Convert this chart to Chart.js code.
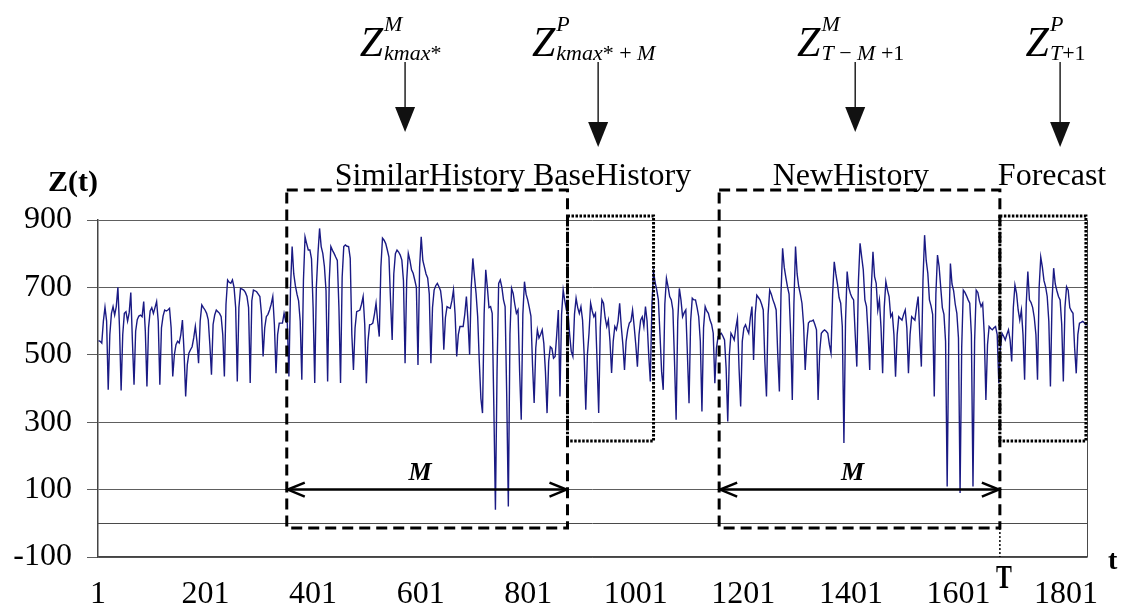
<!DOCTYPE html>
<html>
<head>
<meta charset="utf-8">
<script src="https://cdn.jsdelivr.net/npm/chart.js@4.4.1/dist/chart.umd.min.js"></script>
<style>
  html, body { margin: 0; padding: 0; background: #fff; }
  #wrap { width: 1123px; height: 610px; position: relative; }
</style>
</head>
<body>
<div id="wrap"><canvas id="chart"></canvas></div>
<script>
// Z(t), every 3 steps of t, starting at t = 2.
// First row runs up to the first daily low, then one row per day (low first).
const T_START = 2;
const T_STEP = 3;
const zValues = [
  542, 540, 535, 600, 641, 600,
  396, 560, 623, 643, 618, 643, 700, 580,
  394, 560, 623, 628, 600, 625, 685, 540,
  411, 570, 604, 615, 618, 613, 658, 570,
  406, 580, 630, 640, 623, 640, 658, 600,
  411, 580, 615, 633, 630, 633, 638, 580,
  436, 500, 530, 540, 535, 560, 603, 510,
  376, 470, 505, 515, 524, 550, 584, 540,
  475, 600, 648, 640, 633, 623, 604, 530,
  441, 590, 618, 633, 628, 623, 613, 560,
  436, 650, 722, 715, 712, 722, 700, 640,
  421, 640, 697, 695, 692, 685, 673, 640,
  416, 660, 692, 690, 687, 680, 673, 620,
  495, 580, 613, 620, 633, 650, 673, 590,
  445, 560, 594, 594, 594, 623, 600, 594,
  436, 700, 821, 740, 705, 680, 660, 600,
  426, 720, 850, 830, 811, 811, 785, 640,
  416, 700, 800, 875, 821, 801, 762, 690,
  421, 720, 821, 810, 801, 790, 780, 640,
  416, 730, 821, 826, 822, 821, 786, 560,
  455, 580, 628, 630, 633, 650, 673, 590,
  416, 540, 589, 590, 594, 620, 653, 600,
  554, 760, 846, 840, 830, 811, 790, 660,
  544, 740, 800, 811, 805, 796, 781, 720,
  475, 720, 801, 780, 752, 742, 722, 700,
  470, 760, 850, 780, 760, 740, 728, 680,
  475, 640, 692, 705, 712, 702, 690, 650,
  515, 610, 643, 640, 638, 660, 692, 620,
  495, 560, 584, 584, 584, 620, 673, 600,
  500, 700, 786, 732, 682, 613, 480, 370,
  327, 620, 752, 700, 640, 643, 623, 350,
  40, 450, 712, 722, 700, 663, 643, 380,
  50, 560, 697, 682, 650, 623, 633, 450,
  307, 620, 717, 680, 663, 640, 615, 470,
  357, 520, 574, 550, 560, 574, 534, 450,
  327, 480, 524, 519, 490, 495, 560, 633,
  376, 620, 692, 660, 633, 623, 560, 510,
  495, 620, 668, 640, 623, 643, 603, 500,
  337, 500, 564, 653, 630, 613, 623, 480,
  327, 580, 663, 653, 610, 584, 603, 540,
  446, 540, 584, 574, 600, 653, 584, 530,
  455, 540, 574, 594, 600, 633, 584, 530,
  465, 560, 603, 613, 584, 643, 600, 500,
  421, 650, 745, 715, 692, 663, 560, 450,
  396, 650, 727, 702, 673, 663, 633, 480,
  307, 600, 697, 663, 613, 625, 633, 500,
  356, 600, 668, 663, 663, 640, 613, 540,
  332, 580, 643, 630, 623, 603, 590, 564,
  416, 520, 554, 560, 564, 555, 544, 460,
  302, 500, 564, 555, 544, 580, 608, 460,
  347, 540, 580, 589, 575, 564, 610, 643,
  485, 620, 677, 670, 663, 650, 633, 480,
  376, 620, 692, 680, 663, 650, 633, 500,
  391, 680, 816, 760, 730, 702, 680, 560,
  366, 650, 821, 740, 702, 680, 653, 590,
  455, 540, 594, 600, 600, 603, 590, 574,
  366, 510, 564, 570, 574, 570, 564, 530,
  505, 680, 776, 740, 710, 670, 653, 584,
  238, 600, 747, 700, 682, 670, 663, 560,
  465, 720, 831, 791, 752, 663, 643, 560,
  455, 700, 806, 732, 712, 633, 663, 580,
  445, 640, 717, 692, 673, 613, 623, 560,
  435, 560, 613, 608, 603, 620, 633, 580,
  445, 560, 613, 608, 603, 640, 673, 560,
  465, 720, 855, 780, 742, 663, 645, 620,
  376, 680, 796, 762, 700, 640, 620, 540,
  109, 550, 771, 710, 690, 650, 623, 550,
  90, 520, 692, 685, 675, 663, 653, 560,
  109, 540, 692, 685, 660, 643, 653, 560,
  366, 530, 584, 578, 574, 580, 584, 560,
  416, 520, 564, 555, 544, 560, 574, 544,
  480, 640, 707, 682, 633, 603, 633, 560,
  426, 650, 747, 663, 655, 640, 610, 560,
  426, 700, 790, 760, 720, 702, 673, 600,
  406, 660, 757, 710, 690, 673, 663, 590,
  421, 640, 702, 692, 640, 630, 623, 520,
  445, 560, 594, 596, 599, 595, 589, 590
];

const xTicks = [1, 201, 401, 601, 801, 1001, 1201, 1401, 1601, 1801];
const yTicks = [-100, 100, 300, 500, 700, 900];

// windows of the scheme
const T_NOW = 1678;
const M_LEN = 522;
const P_LEN = 160;
const K_MAX = 352;

const SERIF = "'Liberation Serif', 'Times New Roman', serif";

const boxes = [
  { from: K_MAX, to: K_MAX + M_LEN, low: -14, high: 989, dash: [11, 6] },
  { from: K_MAX + M_LEN, to: K_MAX + M_LEN + P_LEN, low: 244, high: 912, dash: [2.5, 1.5] },
  { from: T_NOW - M_LEN, to: T_NOW, low: -14, high: 989, dash: [11, 6] },
  { from: T_NOW, to: T_NOW + P_LEN, low: 244, high: 912, dash: [2.5, 1.5] }
];

const names = [
  { text: 'SimilarHistory', t: 618 },
  { text: 'BaseHistory', t: 957 },
  { text: 'NewHistory', t: 1401 },
  { text: 'Forecast', t: 1775 }
];

const IT = 'italic 22px ' + SERIF;
const UP = '22px ' + SERIF;
const pointers = [
  { t: 572, tip: -88, sup: 'M', sub: [['kmax', IT], ['*', UP]] },
  { t: 931, tip: -73, sup: 'P', sub: [['kmax', IT], ['*', UP], [' + ', UP], ['M', IT]] },
  { t: 1409, tip: -88, sup: 'M', sub: [['T', IT], [' \u2212 ', UP], ['M', IT], [' +1', UP]] },
  { t: 1790, tip: -73, sup: 'P', sub: [['T', IT], ['+1', UP]] }
];

function line(ctx, x0, y0, x1, y1) {
  ctx.beginPath();
  ctx.moveTo(x0, y0);
  ctx.lineTo(x1, y1);
  ctx.stroke();
}

function runsWidth(ctx, runs) {
  let w = 0;
  runs.forEach(r => { ctx.font = r[1]; w += ctx.measureText(r[0]).width; });
  return w;
}

function drawRuns(ctx, x, y, runs) {
  runs.forEach(r => {
    ctx.font = r[1];
    ctx.fillText(r[0], x, y);
    x += ctx.measureText(r[0]).width;
  });
}

function chevron(ctx, tx, ty, dir) {
  ctx.beginPath();
  ctx.moveTo(tx + dir * 17, ty - 7);
  ctx.lineTo(tx, ty);
  ctx.lineTo(tx + dir * 17, ty + 7);
  ctx.stroke();
}

const schemePlugin = {
  id: 'scheme',
  beforeDatasetsDraw(chart) {
    const { ctx, chartArea: a, scales: { y } } = chart;
    ctx.save();
    ctx.strokeStyle = '#4a4a4a';
    ctx.lineWidth = 1;
    const y0 = Math.round(y.getPixelForValue(0)) + 0.5;
    line(ctx, a.left, y0, a.right, y0);
    line(ctx, a.right + 0.5, a.top, a.right + 0.5, a.bottom);
    ctx.restore();
  },
  afterDraw(chart) {
    const { ctx, chartArea: a, scales: { x, y } } = chart;
    ctx.save();
    ctx.strokeStyle = '#000';
    ctx.fillStyle = '#000';

    // windows
    ctx.lineWidth = 3;
    boxes.forEach(b => {
      const x0 = x.getPixelForValue(b.from), x1 = x.getPixelForValue(b.to);
      const y0 = y.getPixelForValue(b.high), y1 = y.getPixelForValue(b.low);
      ctx.setLineDash(b.dash);
      ctx.strokeRect(x0, y0, x1 - x0, y1 - y0);
    });
    // T mark down to the axis
    ctx.lineWidth = 1.5;
    ctx.setLineDash([2, 2]);
    const xT = x.getPixelForValue(T_NOW);
    line(ctx, xT, y.getPixelForValue(-14), xT, a.bottom);
    ctx.setLineDash([]);

    // M spans
    const yM = y.getPixelForValue(100);
    [[K_MAX, K_MAX + M_LEN], [T_NOW - M_LEN, T_NOW]].forEach(s => {
      const x0 = x.getPixelForValue(s[0]), x1 = x.getPixelForValue(s[1]);
      ctx.lineWidth = 2.5;
      line(ctx, x0 + 2, yM, x1 - 2, yM);
      chevron(ctx, x0 + 1, yM, 1);
      chevron(ctx, x1 - 1, yM, -1);
      ctx.font = 'italic bold 26px ' + SERIF;
      ctx.textAlign = 'center';
      ctx.fillText('M', (x0 + x1) / 2 - 7, yM - 10);
    });

    // window names
    ctx.textAlign = 'center';
    ctx.textBaseline = 'alphabetic';
    ctx.font = '32px ' + SERIF;
    names.forEach(n => ctx.fillText(n.text, x.getPixelForValue(n.t), a.top - 35));

    // pointers with Z labels
    ctx.textAlign = 'left';
    pointers.forEach(p => {
      const px = x.getPixelForValue(p.t);
      const tipY = a.top + p.tip;
      ctx.strokeStyle = '#222';
      ctx.fillStyle = '#111';
      ctx.lineWidth = 1.5;
      line(ctx, px, a.top - 158, px, tipY - 22);
      ctx.beginPath();
      ctx.moveTo(px - 10, tipY - 25);
      ctx.lineTo(px + 10, tipY - 25);
      ctx.lineTo(px, tipY);
      ctx.closePath();
      ctx.fill();

      ctx.fillStyle = '#000';
      ctx.font = 'italic 42px ' + SERIF;
      const zw = ctx.measureText('Z').width;
      const sw = Math.max(runsWidth(ctx, [[p.sup, IT]]), runsWidth(ctx, p.sub));
      const left = px - 5 - (zw + sw) / 2;
      ctx.font = 'italic 42px ' + SERIF;
      ctx.fillText('Z', left, a.top - 164);
      drawRuns(ctx, left + zw + 1, a.top - 189, [[p.sup, IT]]);
      drawRuns(ctx, left + zw + 1, a.top - 160, p.sub);
    });

    // axis titles
    ctx.fillStyle = '#000';
    ctx.font = 'bold 30px ' + SERIF;
    ctx.textAlign = 'left';
    ctx.fillText('Z(t)', 48, a.top - 29);
    ctx.font = 'bold 28px ' + SERIF;
    ctx.fillText('t', a.right + 21, a.bottom + 12);
    ctx.save();
    ctx.translate(xT + 4, a.bottom + 31);
    ctx.scale(0.7, 1);
    ctx.font = 'bold 34px ' + SERIF;
    ctx.textAlign = 'center';
    ctx.fillText('T', 0, 0);
    ctx.restore();

    ctx.restore();
  }
};

const points = zValues.map((v, i) => ({ x: T_START + i * T_STEP, y: v }));
const tickFont = { family: SERIF, size: 32 };

new Chart(document.getElementById('chart'), {
  type: 'line',
  data: {
    datasets: [{
      data: points,
      borderColor: '#1a1a84',
      borderWidth: 1.4,
      pointRadius: 0,
      tension: 0,
      fill: false
    }]
  },
  options: {
    responsive: true,
    maintainAspectRatio: false,
    devicePixelRatio: 1,
    animation: false,
    events: [],
    layout: { padding: { top: 220, right: 36, left: 0, bottom: 0 } },
    plugins: {
      legend: { display: false },
      tooltip: { enabled: false }
    },
    scales: {
      x: {
        type: 'linear',
        min: 1,
        max: 1840,
        afterBuildTicks: s => { s.ticks = xTicks.map(v => ({ value: v })); },
        afterFit: s => { s.height = 53; },
        grid: { display: false, drawTicks: false },
        border: { display: true, color: '#444', width: 1.5 },
        ticks: {
          padding: 18,
          autoSkip: false,
          maxRotation: 0,
          color: '#000',
          font: tickFont,
          callback: v => String(v)
        }
      },
      y: {
        min: -100,
        max: 900,
        afterBuildTicks: s => { s.ticks = yTicks.map(v => ({ value: v })); },
        afterFit: s => { s.width = 98; },
        grid: { color: '#5e5e5e', lineWidth: 1, tickLength: 11, drawTicks: true },
        border: { display: true, color: '#444', width: 1.5 },
        ticks: {
          padding: 15,
          color: '#000',
          font: tickFont,
          callback: v => String(v)
        }
      }
    }
  },
  plugins: [schemePlugin]
});
</script>
</body>
</html>
